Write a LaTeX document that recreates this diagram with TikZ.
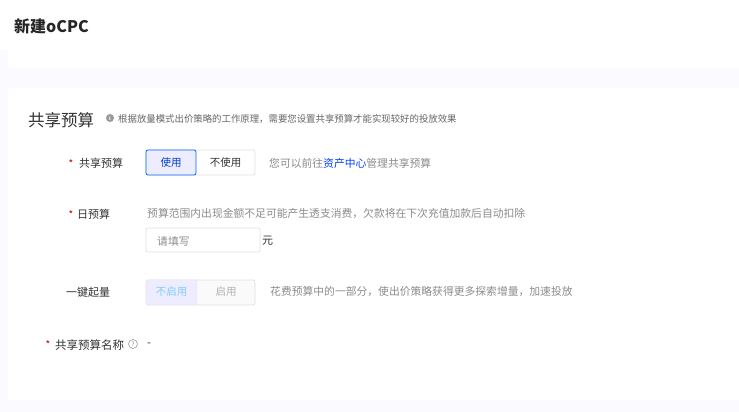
\documentclass[tikz,border=0pt]{standalone}
\usepackage{fontspec}
\setmainfont{Noto Sans CJK SC}
\begin{document}
\begin{tikzpicture}[x=1pt,y=-1pt,
  lbl/.style={anchor=west,inner sep=0,font=\fontsize{11}{12}\selectfont,text=black!80},
  hint/.style={anchor=west,inner sep=0,font=\fontsize{10.8}{12}\selectfont,text=black!45},
  star/.style={anchor=center,inner sep=0,font=\fontsize{10}{12}\selectfont,text=red!80!black},
  btn/.style={draw=black!12,fill=white,rounded corners=2pt,line width=0.7pt}]
\useasboundingbox (0,0) rectangle (739,412);
\fill[black!3!blue!2!white] (0,0) rectangle (739,412);
\fill[white] (0,0) rectangle (739,50);
\fill[white] (8,50) rectangle (739,68);
\fill[white] (8,88) rectangle (739,400);
\node[anchor=west,inner sep=0,font=\fontsize{16}{18}\selectfont\bfseries,text=black!85] (title) at (14,26) {新建oCPC};
\node[anchor=west,inner sep=0,font=\fontsize{16.5}{19}\selectfont,text=black!80] (sec) at (28,120) {共享预算};
\fill[black!40] (110,118) circle (4);
\node[text=white,font=\fontsize{5}{5}\selectfont\bfseries,inner sep=0] (i) at (110,118) {i};
\node[anchor=west,inner sep=0,font=\fontsize{9.4}{10}\selectfont,text=black!60] (sechint) at (118,119) {根据放量模式出价策略的工作原理，需要您设置共享预算才能实现较好的投放效果};
% row1
\node[star] (s1) at (71,164) {*};
\node[lbl] (l1) at (79,163) {共享预算};
\draw[btn] (146,150) rectangle (255,175);
\draw[draw=blue!60!cyan,fill=blue!7,rounded corners=2pt,line width=0.8pt] (146,150) rectangle (196,175);
\node[font=\fontsize{10.5}{12}\selectfont,text=blue!70!cyan!80!black,inner sep=0] (b1a) at (171,163) {使用};
\node[font=\fontsize{10.5}{12}\selectfont,text=black!80,inner sep=0] (b1b) at (225.5,163) {不使用};
\node[hint] (h1) at (269,163) {您可以前往\textcolor{blue!75!cyan}{资产中心}管理共享预算};
% row2
\node[star] (s2) at (71,215) {*};
\node[lbl] (l2) at (77,214) {日预算};
\node[hint] (h2) at (147,213) {预算范围内出现金额不足可能产生透支消费，欠款将在下次充值加款后自动扣除};
\draw[btn] (146,228) rectangle (260,252);
\node[hint] (ph) at (157,241) {请填写};
\node[lbl] (yuan) at (262,241) {元};
% row3
\node[lbl] (l3) at (66,292) {一键起量};
\draw[btn,fill=black!2] (146,280) rectangle (255,305);
\draw[draw=blue!10,fill=blue!7,rounded corners=2pt] (146,280) rectangle (197,305);
\node[font=\fontsize{10.5}{12}\selectfont,text=blue!40!cyan!50,inner sep=0] (b3a) at (171.5,292) {不启用};
\node[font=\fontsize{10.5}{12}\selectfont,text=black!30,inner sep=0] (b3b) at (226,292) {启用};
\node[hint] (h3) at (270,292) {花费预算中的一部分，使出价策略获得更多探索增量，加速投放};
% row4
\node[star] (s4) at (48,345) {*};
\node[lbl,font=\fontsize{11.5}{12}\selectfont] (l4) at (55,345) {共享预算名称};
\draw[black!45,line width=0.5pt] (133,344) circle (4.5);
\node[font=\fontsize{6}{6}\selectfont,text=black!50,inner sep=0] (q) at (133,344) {?};
\node[lbl] (dash) at (147,345) {-};
\end{tikzpicture}
\end{document}
